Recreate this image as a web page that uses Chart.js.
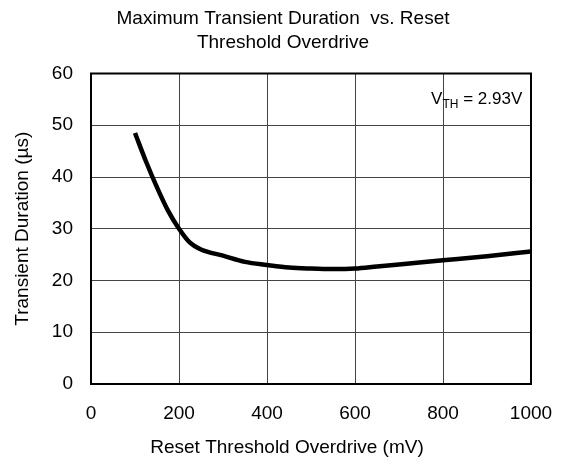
<!DOCTYPE html>
<html><head><meta charset="utf-8">
<script src="https://cdn.jsdelivr.net/npm/chart.js@4"></script>
<style>html,body{margin:0;padding:0;background:#fff}#wrap{width:566px;height:465px}</style>
</head><body><div id="wrap"><canvas id="c" width="566" height="465"></canvas></div>
<script>
const overdriveMV = [100,125,150,175,200,225,250,300,350,400,450,500,550,600,650,700,800,900,1000];
const durationUs  = [48.5,43,38,33.5,30,27.3,26,24.8,23.6,23.0,22.5,22.3,22.2,22.3,22.7,23.1,23.9,24.7,25.6];
const xTicks = [0,200,400,600,800,1000];
const yTicks = [0,10,20,30,40,50,60];
const titleLines = ['Maximum Transient Duration  vs. Reset','Threshold Overdrive'];
const xTitle = 'Reset Threshold Overdrive (mV)';
const yTitle = 'Transient Duration (\u00b5s)';
const annot = {x:773, y:55, main:'V', sub:'TH', rest:' = 2.93V'};

const FONT = "'Liberation Sans', Arial, sans-serif";
const FS = 19;
const frame = {
  id:'frame',
  afterDatasetsDraw(chart){
    const {ctx, chartArea:a, scales} = chart;
    ctx.save();
    ctx.strokeStyle='#000'; ctx.lineWidth=2;
    ctx.strokeRect(a.left, a.top, a.right-a.left, a.bottom-a.top);
    const px = scales.x.getPixelForValue(annot.x), py = scales.y.getPixelForValue(annot.y);
    ctx.fillStyle='#000'; ctx.textBaseline='middle'; ctx.textAlign='left';
    ctx.font = '17px '+FONT;
    ctx.fillText(annot.main, px, py);
    let w = ctx.measureText(annot.main).width;
    ctx.font = '12px '+FONT;
    ctx.fillText(annot.sub, px+w, py+5);
    w += ctx.measureText(annot.sub).width;
    ctx.font = '17px '+FONT;
    ctx.fillText(annot.rest, px+w, py);
    // x-axis title, centred on the page like the reference
    ctx.font = FS+'px '+FONT;
    ctx.textAlign='center';
    ctx.fillText(xTitle, chart.width/2 + 4, scales.x.bottom - 17);
    ctx.restore();
  }
};

new Chart(document.getElementById('c'), {
  type:'line',
  data:{ datasets:[{ data: overdriveMV.map((x,i)=>({x, y:durationUs[i]})),
    borderColor:'#000', borderWidth:4.5, pointRadius:0, fill:false,
    cubicInterpolationMode:'monotone' }]},
  options:{
    responsive:false, animation:false, devicePixelRatio:1,
    layout:{padding:{left:0,right:0,top:0,bottom:0}},
    plugins:{
      legend:{display:false}, tooltip:{enabled:false},
      title:{display:true, text:titleLines, color:'#000',
        font:{family:FONT,size:FS,weight:'normal',lineHeight:1.25}, padding:{top:7,bottom:19}}
    },
    scales:{
      x:{type:'linear', min:0, max:1000,
        afterBuildTicks(s){ s.ticks = xTicks.map(v=>({value:v})); },
        afterFit(s){ s.height = 81; s.paddingRight = 35; },
        grid:{color:'#444', lineWidth:1, drawTicks:false},
        border:{display:false},
        ticks:{color:'#000', padding:18, font:{family:FONT,size:FS}, maxRotation:0, callback:v=>String(v)},
        title:{display:false}
      },
      y:{min:0, max:60,
        afterBuildTicks(s){ s.ticks = yTicks.map(v=>({value:v})); },
        afterFit(s){ s.width = 91; },
        grid:{color:'#444', lineWidth:1, drawTicks:false},
        border:{display:false},
        ticks:{color:'#000', padding:18, font:{family:FONT,size:FS}},
        title:{display:true, text:yTitle, color:'#000', font:{family:FONT,size:FS}, padding:{top:11,bottom:4}}
      }
    }
  },
  plugins:[frame]
});
</script></body></html>
